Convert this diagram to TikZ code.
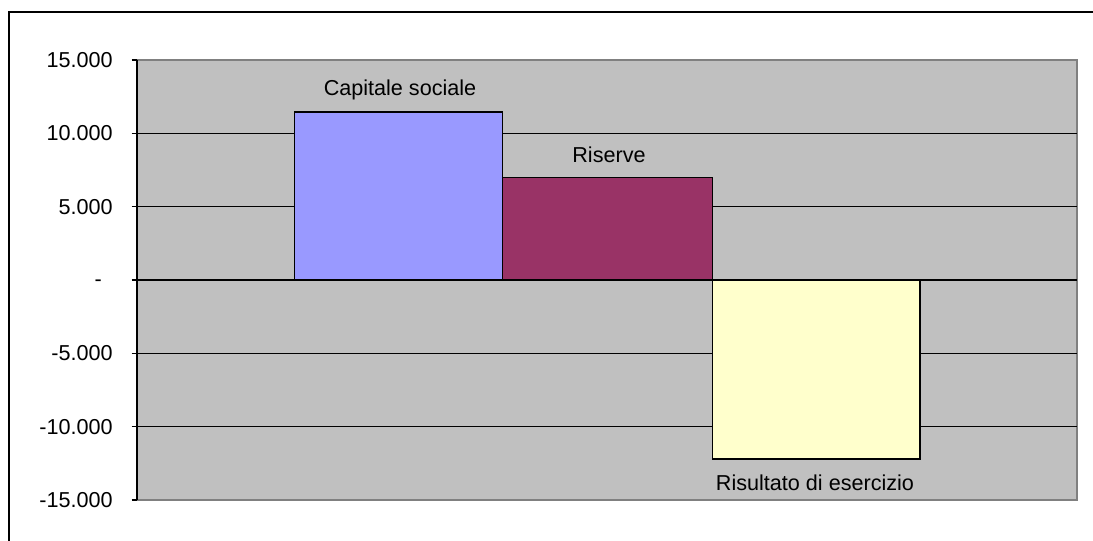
\documentclass[tikz,border=0pt]{standalone}
\usepackage{fontspec}
\setmainfont{Liberation Sans}
\definecolor{plotbg}{HTML}{C0C0C0}
\definecolor{plotedge}{HTML}{808080}
\definecolor{barA}{HTML}{9999FF}
\definecolor{barB}{HTML}{993366}
\definecolor{barC}{HTML}{FFFFCC}
\tikzset{
  ticklab/.style={anchor=east, inner sep=0pt, font=\fontsize{16.2}{16.2}\selectfont},
  barlab/.style={inner sep=0pt, font=\fontsize{16.2}{16.2}\selectfont},
  bar/.style={draw=black, line width=1.1pt},
  grid line/.style={draw=black, line width=1.1pt},
}
\begin{document}
\begin{tikzpicture}[x=0.75pt,y=-0.75pt]
\useasboundingbox (0,0) rectangle (1093,541);
% outer frame (clipped at right and bottom)
\begin{scope}
\clip (0,0) rectangle (1093,541);
\draw[line width=1.5pt] (9,560) -- (9,12) -- (1110,12);
\end{scope}
% plot area
\fill[plotbg] (137,60) rectangle (1077,500);
\draw[plotedge, line width=1.5pt] (137,60) -- (1077,60) -- (1077,500) -- (137,500);
% grid lines
\foreach \yy in {133.33,206.67,280,353.33,426.67}
  \draw[grid line] (137,\yy) -- (1077,\yy);
% bars
\draw[bar, fill=barA] (294.7,280) rectangle (502.3,112);
\draw[bar, fill=barB] (502.3,280) rectangle (712.3,177.7);
\draw[bar, fill=barC] (712.3,280) rectangle (920,459);
% axis
\draw[line width=1.2pt] (137,60) -- (137,500);
\foreach \yy in {60,133.33,206.67,280,353.33,426.67,500}
  \draw[line width=1.2pt] (131.5,\yy) -- (137,\yy);
% tick labels
\node[ticklab] (t15) at (113,60) {15.000};
\node[ticklab] (t10) at (113,133.33) {10.000};
\node[ticklab] (t5) at (113,206.67) {5.000};
\node[ticklab] (t0) at (102,283) {-};
\node[ticklab] (tm5) at (113,353.33) {-5.000};
\node[ticklab] (tm10) at (113,426.67) {-10.000};
\node[ticklab] (tm15) at (113,500) {-15.000};
% bar labels
\node[barlab] (lA) at (400,90) {Capitale sociale};
\node[barlab] (lB) at (609,155) {Riserve};
\node[barlab] (lC) at (815,483) {Risultato di esercizio};
\end{tikzpicture}
\end{document}
